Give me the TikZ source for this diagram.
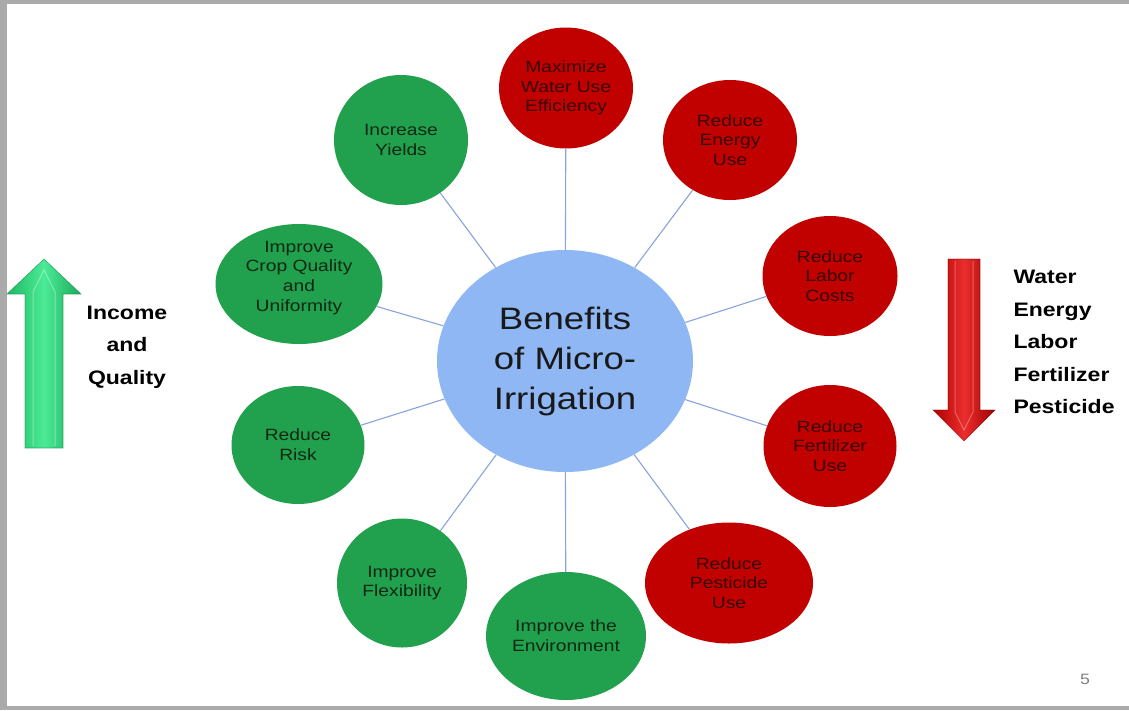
\documentclass[tikz,border=0pt]{standalone}
\usepackage{fontspec}
\setmainfont[FakeStretch=1.18]{Liberation Sans}
\usetikzlibrary{shapes.geometric}

\definecolor{hubblue}{RGB}{143,183,243}
\definecolor{linkblue}{RGB}{138,162,222}
\definecolor{gaingreen}{RGB}{33,160,77}
\definecolor{gaintext}{RGB}{15,40,20}
\definecolor{cutred}{RGB}{193,0,0}
\definecolor{cuttext}{RGB}{55,5,5}
\definecolor{slidegray}{RGB}{170,170,170}
% arrow shades
\definecolor{upedge}{RGB}{30,185,100}
\definecolor{upedgeb}{RGB}{25,170,90}
\definecolor{upmid}{RGB}{75,235,150}
\definecolor{upline}{RGB}{20,130,70}
\definecolor{downedge}{RGB}{175,0,0}
\definecolor{downedgeb}{RGB}{160,0,0}
\definecolor{downmid}{RGB}{235,45,45}
\definecolor{downline}{RGB}{130,0,0}

\tikzset{
    hub/.style={ellipse, fill=hubblue, inner sep=0pt, align=center,
        minimum width=256pt, minimum height=222pt,
        font=\fontsize{31}{40}\selectfont, text=black!90},
    gain/.style={ellipse, fill=gaingreen, inner sep=0pt, align=center,
        font=\fontsize{16.3}{19.7}\selectfont, text=gaintext},
    cut/.style={gain, fill=cutred, text=cuttext},
    link/.style={draw=linkblue, line width=1.1pt},
    sidetext/.style={font=\bfseries\fontsize{19.5}{32.5}\selectfont}
}

\begin{document}
\begin{tikzpicture}[x=1pt,y=-1pt]
    \useasboundingbox (0,0) rectangle (1129,710);

    % Slide frame
    \fill[slidegray] (0,0) rectangle (1129,710);
    \fill[white] (7,4) rectangle (1129,706);

    % Centre
    \node[hub] (hub) at (565,361) {Benefits\\of Micro-\\Irrigation};

    % Savings (red)
    \node[cut, minimum width=134pt, minimum height=121pt] (water) at (566,88) {Maximize\\Water Use\\Efficiency};
    \node[cut, minimum width=134pt, minimum height=120pt] (energy) at (730,140) {Reduce\\Energy\\Use};
    \node[cut, minimum width=135pt, minimum height=120pt] (labor) at (830,276) {Reduce\\Labor\\Costs};
    \node[cut, minimum width=133pt, minimum height=122pt] (fertilizer) at (830,446) {Reduce\\Fertilizer\\Use};
    \node[cut, minimum width=168pt, minimum height=121pt] (pesticide) at (729,583) {Reduce\\Pesticide\\Use};

    % Gains (green)
    \node[gain, minimum width=160pt, minimum height=128pt] (environment) at (566,636) {Improve the\\Environment};
    \node[gain, minimum width=130pt, minimum height=129pt] (flexibility) at (402,583) {Improve\\Flexibility};
    \node[gain, minimum width=133pt, minimum height=118pt] (risk) at (298,445) {Reduce\\Risk};
    \node[gain, minimum width=167pt, minimum height=120pt, text depth=16pt, inner ysep=-6pt] (quality) at (299,284) {Improve\\Crop Quality\\and\\Uniformity};
    \node[gain, minimum width=134pt, minimum height=130pt] (yields) at (401,140) {Increase\\Yields};

    % Spokes
    \foreach \n in {water,energy,labor,fertilizer,pesticide,environment,flexibility,risk,quality,yields}
        \draw[link] (hub) -- (\n);

    % Up arrow
    \shade[left color=upedge, right color=upedgeb, middle color=upmid]
        (25,448) -- (25,294) -- (7,294) -- (44,259) -- (81,294) -- (63,294) -- (63,448) -- cycle;
    \draw[white, opacity=0.35, line width=1pt] (33,446) -- (33,292) -- (44,270) -- (55,292) -- (55,446);
    \draw[upline, line width=0.6pt, opacity=0.6]
        (25,448) -- (25,294) -- (7,294) -- (44,259) -- (81,294) -- (63,294) -- (63,448) -- cycle;
    \node[sidetext, align=center] (income) at (127,347) {Income\\and\\Quality};

    % Down arrow
    \shade[left color=downedge, right color=downedgeb, middle color=downmid]
        (948,259) -- (948,410) -- (933,410) -- (964,441) -- (995,410) -- (980,410) -- (980,259) -- cycle;
    \draw[white, opacity=0.3, line width=1pt] (955,261) -- (955,412) -- (964,430) -- (973,412) -- (973,261);
    \draw[downline, line width=0.6pt, opacity=0.6]
        (948,259) -- (948,410) -- (933,410) -- (964,441) -- (995,410) -- (980,410) -- (980,259) -- cycle;
    \node[sidetext, align=left, anchor=west] (savings) at (1010,342) {Water\\Energy\\Labor\\Fertilizer\\Pesticide};

    % Page number
    \node[text=gray, font=\fontsize{15}{18}\selectfont] (pagenum) at (1085,679) {5};
\end{tikzpicture}
\end{document}
